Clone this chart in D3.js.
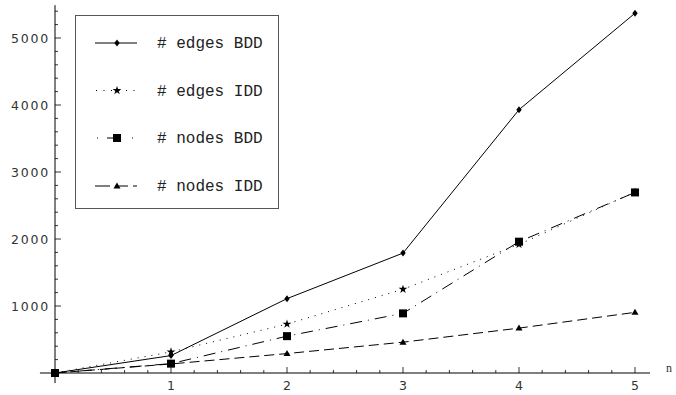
<!DOCTYPE html>
<html><head><meta charset="utf-8">
<script src="https://cdn.jsdelivr.net/npm/d3@7"></script>
<style>body{margin:0;background:#fff}svg{display:block}</style>
</head><body>
<svg id="c" width="676" height="395"></svg>
<script>
const xs = [0, 1, 2, 3, 4, 5];
const edgesBDD = [0, 260, 1110, 1790, 3930, 5370];
const edgesIDD = [0, 315, 730, 1250, 1920, 2700];
const nodesBDD = [0, 140, 550, 890, 1960, 2695];
const nodesIDD = [0, 135, 290, 460, 670, 905];
const seriesNames = ["# edges BDD", "# edges IDD", "# nodes BDD", "# nodes IDD"];
const xTicks = [1, 2, 3, 4, 5];
const yTicks = [1000, 2000, 3000, 4000, 5000];
const xLabel = "n";

const svg = d3.select("#c");
const x = d3.scaleLinear().domain([0, 5]).range([55, 635]);
const y = d3.scaleLinear().domain([0, 5000]).range([373, 38]);

const axisCol = "#000";
svg.append("line").attr("x1", x(-0.13)).attr("x2", x(5.13)).attr("y1", y(0)).attr("y2", y(0)).attr("stroke", axisCol).attr("stroke-width", 1);
svg.append("line").attr("x1", x(0)).attr("x2", x(0)).attr("y1", y(5490)).attr("y2", y(-150)).attr("stroke", axisCol).attr("stroke-width", 1);

const xMinor = d3.range(1, 26).map(i => i * 0.2).filter(v => Math.abs(v - Math.round(v)) > 1e-6);
svg.selectAll(".xmin").data(xMinor).enter().append("line")
  .attr("x1", d => x(d)).attr("x2", d => x(d)).attr("y1", y(0)).attr("y2", y(0) - 3)
  .attr("stroke", axisCol).attr("stroke-width", 0.8);
svg.selectAll(".xmaj").data(xTicks).enter().append("line")
  .attr("x1", d => x(d)).attr("x2", d => x(d)).attr("y1", y(0)).attr("y2", y(0) - 6)
  .attr("stroke", axisCol).attr("stroke-width", 0.8);
svg.selectAll(".xlab").data(xTicks).enter().append("text")
  .attr("x", d => x(d)).attr("y", 389.5).attr("text-anchor", "middle")
  .attr("font-family", "DejaVu Sans").attr("font-size", 12.5).attr("fill", "#333")
  .text(d => d);

const yMinor = d3.range(1, 28).map(i => i * 200).filter(v => v % 1000 !== 0);
svg.selectAll(".ymin").data(yMinor).enter().append("line")
  .attr("x1", x(0)).attr("x2", x(0) + 3).attr("y1", d => y(d)).attr("y2", d => y(d))
  .attr("stroke", axisCol).attr("stroke-width", 0.8);
svg.selectAll(".ymaj").data(yTicks).enter().append("line")
  .attr("x1", x(0)).attr("x2", x(0) + 6).attr("y1", d => y(d)).attr("y2", d => y(d))
  .attr("stroke", axisCol).attr("stroke-width", 0.8);
svg.selectAll(".ylab").data(yTicks).enter().append("text")
  .attr("x", 50).attr("y", d => y(d) + 4.5).attr("text-anchor", "end")
  .attr("font-family", "DejaVu Sans").attr("font-size", 12.5).attr("fill", "#333")
  .attr("letter-spacing", 1.8)
  .text(d => d);

svg.append("text").attr("x", 669).attr("y", 372).attr("text-anchor", "middle")
  .attr("font-family", "Liberation Serif").attr("font-size", 12).attr("fill", "#333").text(xLabel);

function marker(g, type, cx, cy) {
  if (type === 0) {
    g.append("path").attr("d", `M${cx},${cy-3.5}L${cx+2.7},${cy}L${cx},${cy+3.5}L${cx-2.7},${cy}Z`).attr("fill", "#000");
  } else if (type === 1) {
    g.append("path").attr("d", d3.symbol().type(d3.symbolStar).size(24)()).attr("transform", `translate(${cx},${cy})`).attr("fill", "#000");
  } else if (type === 2) {
    g.append("rect").attr("x", cx - 4).attr("y", cy - 4).attr("width", 8).attr("height", 8).attr("fill", "#000");
  } else {
    g.append("path").attr("d", `M${cx},${cy-3.5}L${cx+3.5},${cy+2.5}L${cx-3.5},${cy+2.5}Z`).attr("fill", "#000");
  }
}

const series = [edgesBDD, edgesIDD, nodesBDD, nodesIDD];
const dashes = [null, "1,6", "12,6,1,6", "10,5"];
const line = d3.line().x((d, i) => x(xs[i])).y(d => y(d));
const plot = svg.append("g");
series.forEach((s, k) => {
  const p = plot.append("path").datum(s).attr("d", line).attr("fill", "none")
    .attr("stroke", "#000").attr("stroke-width", 1);
  if (dashes[k]) p.attr("stroke-dasharray", dashes[k]);
});
series.forEach((s, k) => {
  s.forEach((v, i) => marker(plot, k, x(xs[i]), y(v)));
});

const lg = svg.append("g");
lg.append("rect").attr("x", 75.5).attr("y", 15.5).attr("width", 203).attr("height", 193)
  .attr("fill", "#fff").attr("stroke", "#555").attr("stroke-width", 1);
const rows = [43, 90.5, 138, 186];
const legendDash = [null, "0,1,1,5.5", "0,2,1,9,12,13,1,10", "15,5,13,5,4,10"];
seriesNames.forEach((nm, k) => {
  const ly = rows[k];
  const l = lg.append("line").attr("x1", 95).attr("x2", 137).attr("y1", ly).attr("y2", ly)
    .attr("stroke", "#000").attr("stroke-width", 1);
  if (legendDash[k]) l.attr("stroke-dasharray", legendDash[k]);
  marker(lg, k, 117, ly);
  lg.append("text").attr("x", 157).attr("y", ly + 5).attr("font-family", "Liberation Mono")
    .attr("font-size", 16).attr("fill", "#222").text(nm);
});
</script>
</body></html>
